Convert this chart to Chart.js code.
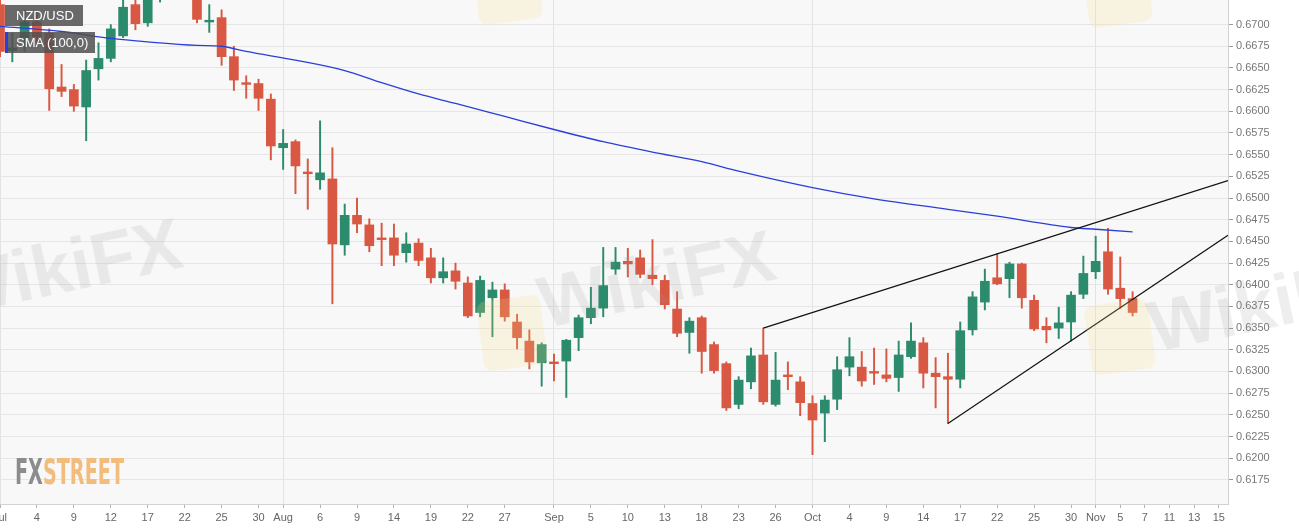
<!DOCTYPE html>
<html>
<head>
<meta charset="utf-8">
<title>NZD/USD</title>
<script src="https://cdn.jsdelivr.net/npm/chart.js@4.4.1/dist/chart.umd.min.js"></script>
<style>
  html, body { margin: 0; padding: 0; background: #fff; }
  #wrap { position: relative; width: 1299px; height: 530px; overflow: hidden; font-family: "Liberation Sans", Arial, sans-serif; }
  #chart { position: absolute; left: 0; top: 0; }
  .tag { position: absolute; left: 5px; height: 21px; line-height: 21px; color: #fff; font-size: 13px;
         background: rgba(80, 80, 80, 0.85); padding-left: 11px; box-sizing: border-box; white-space: nowrap; }
  .wm { position: absolute; font: bold 72px "Liberation Sans", Arial, sans-serif; color: rgba(150, 150, 150, 0.16);
        transform: rotate(-12deg); transform-origin: left bottom; white-space: nowrap; pointer-events: none; }
  .logo { position: absolute; width: 64px; height: 70px; border-radius: 9px; background: rgba(250, 222, 130, 0.2);
          transform: rotate(-8deg); pointer-events: none; }
  #fx { position: absolute; left: 15px; top: 453px; }
</style>
</head>
<body>
<div id="wrap">
  <canvas id="chart" width="1299" height="530"></canvas>

  <div class="logo" style="left:475px; top:-48px;"></div>
  <div class="logo" style="left:1085px; top:-45px;"></div>
  <div class="logo" style="left:480px; top:298px;"></div>
  <div class="logo" style="left:1088px; top:302px;"></div>
  <div class="wm" style="left:-45px; top:250px;">WikiFX</div>
  <div class="wm" style="left:548px; top:262px;">WikiFX</div>
  <div class="wm" style="left:1158px; top:286px;">WikiFX</div>

  <div class="tag" style="top:5px; width:78px;">NZD/USD</div>
  <div class="tag" style="top:32px; width:90px; border-left:3px solid #2b3fd8; padding-left:8px;">SMA (100,0)</div>

  <svg id="fx" width="120" height="36">
    <text x="0" y="31" font-family="DejaVu Sans Condensed, Liberation Sans Narrow, sans-serif" font-weight="bold"
          font-size="36" textLength="109" lengthAdjust="spacingAndGlyphs"><tspan fill="#8c8c8c">FX</tspan><tspan fill="#f1bc7c">STREET</tspan></text>
  </svg>
</div>

<script>
// daily candles, index 0 = Jul 1 2019 (weekdays only)
const opens = [
  0.6723, 0.6670, 0.6685, 0.6703, 0.6690, 0.6628, 0.6625, 0.6605, 0.6649, 0.6661,
  0.6687, 0.6723, 0.6702, 0.6745, 0.6770, 0.6755, 0.6745, 0.6703, 0.6708, 0.6663,
  0.6633, 0.6632, 0.6614, 0.6558, 0.6565, 0.6530, 0.6521, 0.6522, 0.6446, 0.6480,
  0.6469, 0.6454, 0.6454, 0.6437, 0.6448, 0.6431, 0.6408, 0.6416, 0.6402, 0.6368,
  0.6385, 0.6394, 0.6357, 0.6335, 0.6310, 0.6311, 0.6312, 0.6339, 0.6362, 0.6373,
  0.6418, 0.6427, 0.6431, 0.6411, 0.6405, 0.6372, 0.6345, 0.6362, 0.6331, 0.6309,
  0.6262, 0.6288, 0.6319, 0.6262, 0.6296, 0.6288, 0.6263, 0.6252, 0.6268, 0.6305,
  0.6305, 0.6300, 0.6296, 0.6293, 0.6317, 0.6333, 0.6298, 0.6294, 0.6291, 0.6348,
  0.6380, 0.6408, 0.6407, 0.6424, 0.6382, 0.6352, 0.6350, 0.6357, 0.6389, 0.6415,
  0.6438, 0.6396, 0.6384
];
const highs = [
  0.6729, 0.6690, 0.6717, 0.6715, 0.6695, 0.6654, 0.6631, 0.6659, 0.6679, 0.6700,
  0.6730, 0.6729, 0.6745, 0.6775, 0.6790, 0.6765, 0.6750, 0.6723, 0.6717, 0.6675,
  0.6641, 0.6637, 0.6620, 0.6579, 0.6567, 0.6545, 0.6589, 0.6558, 0.6493, 0.6500,
  0.6476, 0.6471, 0.6470, 0.6460, 0.6453, 0.6442, 0.6431, 0.6425, 0.6409, 0.6410,
  0.6403, 0.6401, 0.6366, 0.6348, 0.6333, 0.6320, 0.6337, 0.6365, 0.6397, 0.6443,
  0.6443, 0.6442, 0.6440, 0.6452, 0.6411, 0.6392, 0.6362, 0.6364, 0.6334, 0.6311,
  0.6294, 0.6327, 0.6350, 0.6322, 0.6311, 0.6294, 0.6272, 0.6272, 0.6317, 0.6339,
  0.6323, 0.6327, 0.6326, 0.6335, 0.6356, 0.6339, 0.6316, 0.6321, 0.6357, 0.6392,
  0.6418, 0.6436, 0.6426, 0.6425, 0.6388, 0.6362, 0.6374, 0.6392, 0.6433, 0.6456,
  0.6465, 0.6432, 0.6392
];
const lows = [
  0.6663, 0.6657, 0.6669, 0.6676, 0.6601, 0.6617, 0.6600, 0.6566, 0.6636, 0.6657,
  0.6685, 0.6694, 0.6698, 0.6726, 0.6745, 0.6735, 0.6702, 0.6691, 0.6653, 0.6624,
  0.6615, 0.6601, 0.6544, 0.6533, 0.6505, 0.6487, 0.6510, 0.6378, 0.6434, 0.6460,
  0.6438, 0.6422, 0.6422, 0.6426, 0.6422, 0.6402, 0.6402, 0.6395, 0.6362, 0.6363,
  0.6340, 0.6358, 0.6326, 0.6303, 0.6283, 0.6289, 0.6270, 0.6324, 0.6355, 0.6363,
  0.6412, 0.6409, 0.6408, 0.6400, 0.6372, 0.6340, 0.6321, 0.6298, 0.6298, 0.6255,
  0.6257, 0.6280, 0.6262, 0.6260, 0.6279, 0.6249, 0.6204, 0.6219, 0.6256, 0.6295,
  0.6283, 0.6285, 0.6288, 0.6277, 0.6315, 0.6281, 0.6258, 0.6240, 0.6281, 0.6342,
  0.6371, 0.6400, 0.6385, 0.6373, 0.6347, 0.6333, 0.6338, 0.6335, 0.6384, 0.6407,
  0.6389, 0.6373, 0.6364
];
const closes = [
  0.6669, 0.6673, 0.6703, 0.6686, 0.6626, 0.6623, 0.6606, 0.6647, 0.6661, 0.6695,
  0.6720, 0.6701, 0.6735, 0.6760, 0.6755, 0.6750, 0.6706, 0.6705, 0.6663, 0.6636,
  0.6631, 0.6615, 0.6560, 0.6563, 0.6537, 0.6528, 0.6529, 0.6447, 0.6480, 0.6470,
  0.6445, 0.6452, 0.6434, 0.6447, 0.6428, 0.6408, 0.6415, 0.6404, 0.6364, 0.6405,
  0.6394, 0.6363, 0.6339, 0.6311, 0.6331, 0.6309, 0.6336, 0.6362, 0.6373, 0.6399,
  0.6426, 0.6424, 0.6412, 0.6407, 0.6377, 0.6344, 0.6358, 0.6323, 0.6301, 0.6258,
  0.6290, 0.6318, 0.6265, 0.6290, 0.6294, 0.6264, 0.6244, 0.6267, 0.6302, 0.6317,
  0.6289, 0.6298, 0.6292, 0.6319, 0.6335, 0.6298, 0.6294, 0.6291, 0.6347, 0.6386,
  0.6404, 0.6401, 0.6424, 0.6385, 0.6349, 0.6348, 0.6356, 0.6388, 0.6413, 0.6427,
  0.6395, 0.6384, 0.6368
];

// SMA(100), at these day indices
const smaIdx = [0, 5, 9, 12, 16, 18, 20, 24, 28, 31, 34, 37, 41, 45, 49, 53, 57, 60, 66, 71, 77, 81, 87, 89, 92];
const smaVal = [0.6698, 0.6692, 0.6684, 0.6680, 0.6676, 0.6675, 0.6669, 0.6659, 0.6647, 0.6633, 0.6620, 0.6609, 0.6594,
                0.6579, 0.6565, 0.6553, 0.6542, 0.6531, 0.6512, 0.6499, 0.6487, 0.6479, 0.6466, 0.6464, 0.6461];

// wedge lines (day index, price)
const upperX = [62, 99.75];
const upperY = [0.6350, 0.6520];
const lowerX = [77, 99.75];
const lowerY = [0.6240, 0.6457];

// axis ticks
const xTickIdx = [0, 3, 6, 9, 12, 15, 18, 21, 23, 26, 29, 32, 35, 38, 41, 45, 48, 51, 54, 57, 60, 63,
                  66, 69, 72, 75, 78, 81, 84, 87, 89, 91, 93, 95, 97, 99];
const xTickText = ['Jul', '4', '9', '12', '17', '22', '25', '30', 'Aug', '6', '9', '14', '19', '22', '27',
                   'Sep', '5', '10', '13', '18', '23', '26', 'Oct', '4', '9', '14', '17', '22', '25', '30',
                   'Nov', '5', '7', '11', '13', '15'];
const monthStarts = [0, 23, 45, 66, 89];
const yTicks = [0.6175, 0.6200, 0.6225, 0.6250, 0.6275, 0.6300, 0.6325, 0.6350, 0.6375, 0.6400, 0.6425,
                0.6450, 0.6475, 0.6500, 0.6525, 0.6550, 0.6575, 0.6600, 0.6625, 0.6650, 0.6675, 0.6700];

const upColor = "#2c8a6d";
const downColor = "#d95843";
const candleColors = opens.map((o, i) => (closes[i] >= o ? upColor : downColor));

const bodies = opens.map((o, i) => ({ x: i, y: [o, closes[i]] }));
const wicks = opens.map((o, i) => ({ x: i, y: [lows[i], highs[i]] }));
const smaPts = smaIdx.map((x, i) => ({ x: x, y: smaVal[i] }));
const upperPts = upperX.map((x, i) => ({ x: x, y: upperY[i] }));
const lowerPts = lowerX.map((x, i) => ({ x: x, y: lowerY[i] }));

// light grey plot area
const plotBg = {
  id: "plotBg",
  beforeDraw(chart) {
    const { ctx, chartArea: a } = chart;
    ctx.save();
    ctx.fillStyle = "#f8f8f8";
    ctx.fillRect(a.left, a.top, a.right - a.left, a.bottom - a.top);
    ctx.restore();
  }
};

const fontFam = "'Liberation Sans', Arial, sans-serif";

new Chart(document.getElementById("chart"), {
  data: {
    datasets: [
      {
        type: "line", data: upperPts, borderColor: "#111", borderWidth: 1.2,
        pointRadius: 0, fill: false, order: 0
      },
      {
        type: "line", data: lowerPts, borderColor: "#111", borderWidth: 1.2,
        pointRadius: 0, fill: false, order: 0
      },
      {
        type: "line", data: smaPts, borderColor: "#2b3fd8", borderWidth: 1.3,
        pointRadius: 0, fill: false, cubicInterpolationMode: "monotone", order: 0
      },
      {
        type: "bar", data: bodies, backgroundColor: candleColors, barThickness: 9,
        minBarLength: 1.5, grouped: false, order: 1
      },
      {
        type: "bar", data: wicks, backgroundColor: candleColors, barThickness: 1.3,
        grouped: false, order: 2
      }
    ]
  },
  options: {
    responsive: false,
    animation: false,
    devicePixelRatio: 1,
    layout: { padding: 0 },
    plugins: { legend: { display: false }, tooltip: { enabled: false } },
    scales: {
      x: {
        type: "linear",
        min: 0,
        max: 99.75,
        offset: false,
        grid: {
          offset: false,
          color: c => (c.tick && monthStarts.includes(c.tick.value) ? "#e3e3e3" : "rgba(0,0,0,0)"),
          tickColor: "#b5b5b5",
          tickLength: 4
        },
        border: { color: "#d2d2d2" },
        ticks: {
          autoSkip: false,
          maxRotation: 0,
          padding: 3,
          color: "#666",
          font: { family: fontFam, size: 11 },
          callback: (v, i) => xTickText[i]
        },
        afterBuildTicks: s => { s.ticks = xTickIdx.map(v => ({ value: v })); },
        afterFit: s => { s.height = 26; s.paddingLeft = 0; s.paddingRight = 0; }
      },
      y: {
        type: "linear",
        position: "right",
        min: 0.614716,
        max: 0.672833,
        grid: { color: "#e6e6e6", tickColor: "#999", tickLength: 5 },
        border: { color: "#d2d2d2" },
        ticks: {
          padding: 3,
          color: "#777",
          font: { family: fontFam, size: 11 },
          callback: v => v.toFixed(4)
        },
        afterBuildTicks: s => { s.ticks = yTicks.map(v => ({ value: v })); },
        afterFit: s => { s.width = 71; s.paddingTop = 0; s.paddingBottom = 0; }
      }
    }
  },
  plugins: [plotBg]
});
</script>
</body>
</html>
